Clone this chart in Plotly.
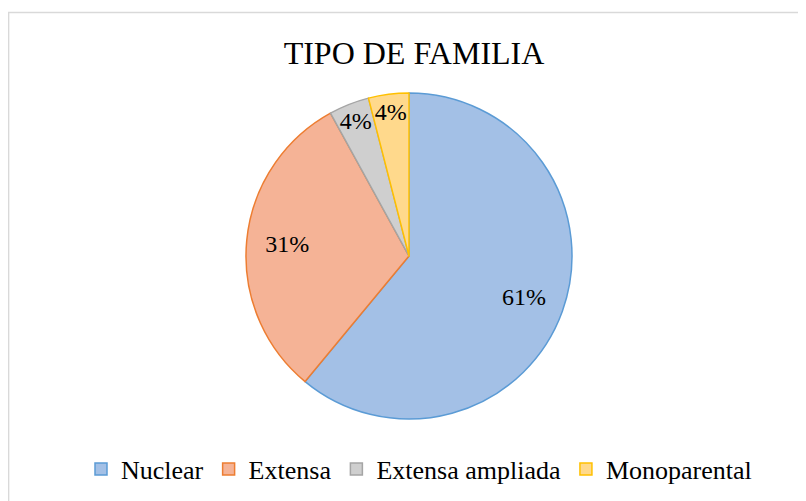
import plotly.graph_objects as go

categories = ["Nuclear", "Extensa", "Extensa ampliada", "Monoparental"]
values = [61, 31, 4, 4]
fill_colors = ["#a3c0e6", "#f5b396", "#cfcfcf", "#ffd98c"]
line_colors = ["#5b9bd5", "#ed7d31", "#a5a5a5", "#ffc000"]
title_text = "TIPO DE FAMILIA"

W, H = 806, 501
OFF = 8  # browser body margin
FONT = "Liberation Serif"

dom = dict(x=[(246 - OFF) / W, (572 - OFF) / W], y=[1 - (419 - OFF) / H, 1 - (93 - OFF) / H])

fig = go.Figure()
fig.add_trace(go.Pie(
    labels=categories,
    values=values,
    sort=False,
    direction="clockwise",
    rotation=0,
    marker=dict(colors=fill_colors, line=dict(color=line_colors, width=1.5)),
    textinfo="none",
    domain=dom,
    hoverinfo="label+percent",
))
# transparent overlay pie carrying the percentage labels further out
fig.add_trace(go.Pie(
    labels=categories,
    values=values,
    sort=False,
    direction="clockwise",
    rotation=0,
    hole=0.5,
    marker=dict(colors=["rgba(0,0,0,0)"] * 4, line=dict(width=0)),
    texttemplate="%{percent:.0%}",
    textposition="inside",
    insidetextorientation="horizontal",
    textfont=dict(family=FONT, size=24, color="black"),
    domain=dom,
    showlegend=False,
    hoverinfo="skip",
))

fig.update_layout(
    width=W, height=H,
    margin=dict(l=0, r=0, t=0, b=0),
    paper_bgcolor="white",
    plot_bgcolor="white",
    font=dict(family=FONT, color="black"),
    title=dict(text=title_text, x=(414 - OFF) / W, xanchor="center", y=1 - (53 - OFF) / H, yanchor="middle",
               font=dict(family=FONT, size=32, color="black")),
    uniformtext=dict(minsize=24, mode="show"),
    legend=dict(orientation="h", x=(419 - OFF) / W, xanchor="center", y=1 - (469 - OFF) / H, yanchor="middle",
                font=dict(family=FONT, size=26, color="black"),
                traceorder="normal"),
    shapes=[dict(type="rect", xref="paper", yref="paper",
                 x0=0.6 / W, x1=1.05, y0=-0.05, y1=1 - (12.5 - OFF) / H,
                 line=dict(color="#d9d9d9", width=1.5), fillcolor="rgba(0,0,0,0)", layer="below")],
)

fig.write_html("out.html")
